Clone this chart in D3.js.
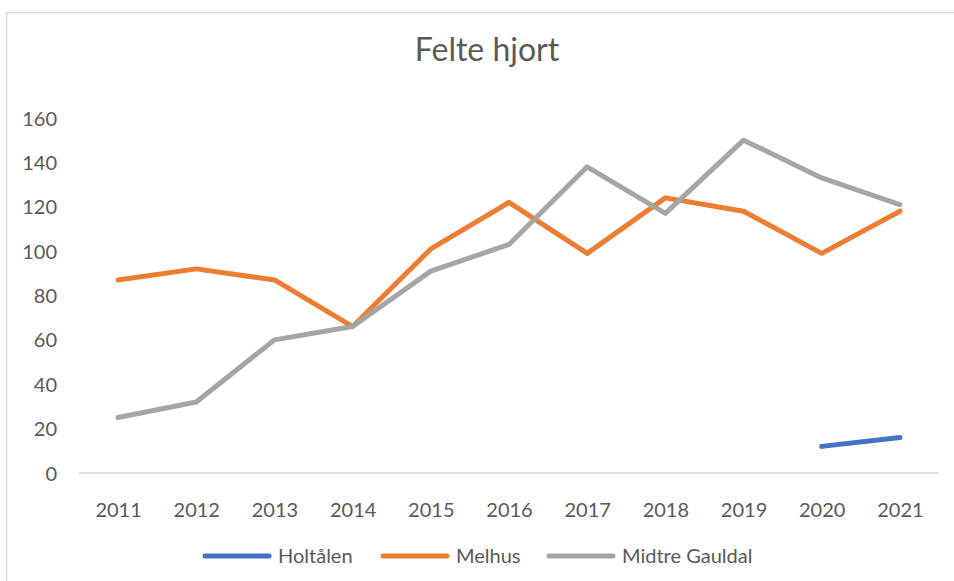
<!DOCTYPE html>
<meta charset="utf-8" />
<script src="https://d3js.org/d3.v7.min.js"></script>
<style>
  body { margin: 0; background: #fff; }
  text { font-family: Lato, "Open Sans", sans-serif; fill: #595959; }
</style>
<div id="my_dataviz"></div>
<script>
  // data
  var years = ["2011", "2012", "2013", "2014", "2015", "2016", "2017", "2018", "2019", "2020", "2021"];
  var holtalen = [null, null, null, null, null, null, null, null, null, 12, 16];
  var melhus = [87, 92, 87, 66, 101, 122, 99, 124, 118, 99, 118];
  var midtreGauldal = [25, 32, 60, 66, 91, 103, 138, 117, 150, 133, 121];
  var yTicks = [0, 20, 40, 60, 80, 100, 120, 140, 160];
  var seriesNames = ["Holtålen", "Melhus", "Midtre Gauldal"];
  var seriesColors = ["#4472C4", "#ED7D31", "#A5A5A5"];

  var W = 954, H = 581;
  var svg = d3.select("#my_dataviz").append("svg")
    .attr("width", W).attr("height", H);

  // chart border
  svg.append("rect")
    .attr("x", 6.5).attr("y", 12.5)
    .attr("width", W + 10).attr("height", H + 10)
    .attr("fill", "none").attr("stroke", "#d9d9d9").attr("stroke-width", 1.5);

  // title
  svg.append("text")
    .attr("x", 487).attr("y", 61)
    .attr("text-anchor", "middle")
    .style("font-size", "32px")
    .text("Felte hjort");

  var x = d3.scalePoint().domain(years).range([79, 939]).padding(0.5);
  var y = d3.scaleLinear().domain([0, 160]).range([473, 118]);

  // x axis
  var xAxis = svg.append("g")
    .attr("transform", "translate(0,473)")
    .call(d3.axisBottom(x).tickSize(0).tickPadding(30).tickSizeOuter(0));
  xAxis.select(".domain").attr("stroke", "#d9d9d9").attr("stroke-width", 1.5)
    .attr("d", "M79,0H939");
  xAxis.selectAll("text").style("font-size", "20px").attr("fill", "#595959")
    .style("font-family", "Lato, 'Open Sans', sans-serif");

  // y axis (labels only)
  var yAxis = svg.append("g")
    .attr("transform", "translate(57,0)")
    .call(d3.axisLeft(y).tickValues(yTicks).tickSize(0).tickPadding(0));
  yAxis.select(".domain").remove();
  yAxis.selectAll("text").style("font-size", "20px").attr("fill", "#595959")
    .style("font-family", "Lato, 'Open Sans', sans-serif")
    .attr("dy", "0.35em");

  // lines
  var allSeries = [holtalen, melhus, midtreGauldal];
  var line = d3.line()
    .defined(function (d) { return d != null; })
    .x(function (d, i) { return x(years[i]); })
    .y(function (d) { return y(d); });

  svg.append("g").selectAll("path")
    .data(allSeries)
    .enter().append("path")
    .attr("d", line)
    .attr("fill", "none")
    .attr("stroke", function (d, i) { return seriesColors[i]; })
    .attr("stroke-width", 5)
    .attr("stroke-linecap", "round")
    .attr("stroke-linejoin", "round");

  // legend
  var legendX = [205, 383, 549];
  var legend = svg.append("g").selectAll("g")
    .data(seriesNames)
    .enter().append("g")
    .attr("transform", function (d, i) { return "translate(" + legendX[i] + ",556)"; });
  legend.append("line")
    .attr("x1", 0).attr("x2", 64).attr("y1", 0).attr("y2", 0)
    .attr("stroke", function (d, i) { return seriesColors[i]; })
    .attr("stroke-width", 5)
    .attr("stroke-linecap", "round");
  legend.append("text")
    .attr("x", 73).attr("y", 0).attr("dy", "0.35em")
    .style("font-size", "20px")
    .text(function (d) { return d; });
</script>
